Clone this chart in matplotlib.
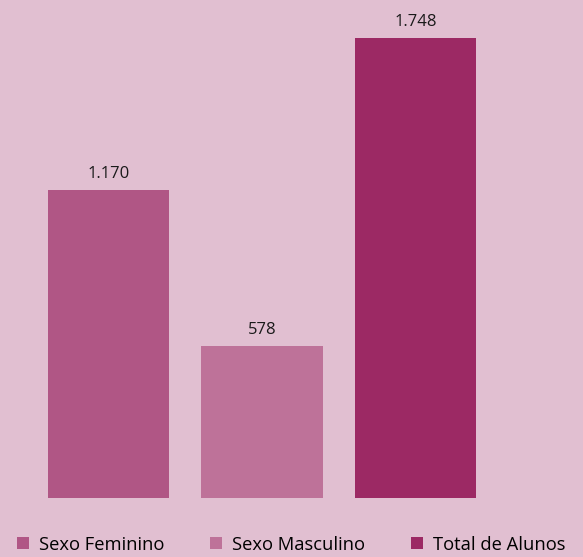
import numpy as np
import matplotlib.pyplot as plt

categories = ['Sexo Feminino', 'Sexo Masculino', 'Total de Alunos']
values = [1170, 578, 1748]
labels = ['1.170', '578', '1.748']
colors = ['#B05685', '#BE7299', '#9C2964']
bg = '#E1BFD1'

plt.rcParams['font.family'] = ['Open Sans', 'DejaVu Sans']

fig = plt.figure(figsize=(5.83, 5.57), dpi=100, facecolor=bg)
ax = fig.add_axes([0.0545, 0.1059, 0.790, 0.8259])
ax.set_facecolor(bg)

x = np.arange(len(categories))
bars = ax.bar(x, values, width=0.79, color=colors, label=categories)

for xi, v, lab in zip(x, values, labels):
    ax.annotate(lab, (xi, v), xytext=(0, 6), textcoords='offset points',
                ha='center', va='bottom', fontsize=12, color='#1a1a1a',
                annotation_clip=False)

ax.set_xlim(-0.5, 2.5)
ax.set_ylim(0, 1748)
ax.axis('off')

fig.legend(bars, categories, loc='center', bbox_to_anchor=(0.5, 0.022),
           ncol=3, frameon=False, fontsize=13.2, handlelength=0.65, handleheight=0.65,
           handletextpad=0.55, columnspacing=2.5, borderpad=0)

fig.savefig('out.png', dpi=100, facecolor=bg)
